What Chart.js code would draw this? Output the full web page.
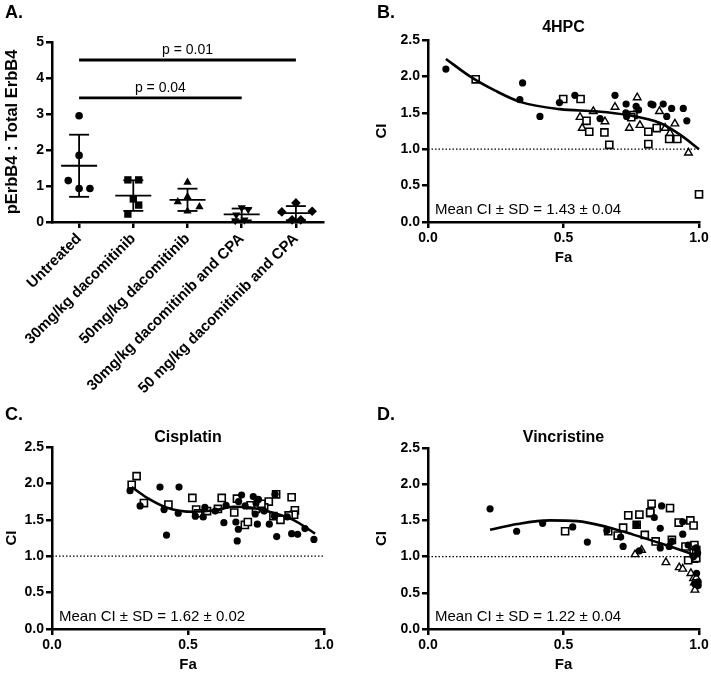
<!DOCTYPE html>
<html>
<head>
<meta charset="utf-8">
<title>pErbB4 and combination index</title>
<script src="https://cdn.jsdelivr.net/npm/chart.js@4.4.1/dist/chart.umd.min.js"></script>
<style>
  body { margin: 0; background: #fff; }
  .wrap { position: relative; width: 711px; height: 675px; overflow: hidden; }
  canvas { position: absolute; }
</style>
</head>
<body>
<div class="wrap">
  <canvas id="chartA" width="355" height="395" style="left:0;top:0"></canvas>
  <canvas id="chartB" width="356" height="300" style="left:355px;top:0"></canvas>
  <canvas id="chartC" width="355" height="280" style="left:0;top:395px"></canvas>
  <canvas id="chartD" width="356" height="280" style="left:355px;top:395px"></canvas>
</div>
<script>
Chart.defaults.font.family = "'Liberation Sans', Arial, Helvetica, sans-serif";
Chart.defaults.color = '#000';
Chart.defaults.animation = false;

// ---- panel A data ----
const groupLabels = ['Untreated', '30mg/kg dacomitinib', '50mg/kg dacomitinib',
                     '30mg/kg dacomitinib and CPA', '50 mg/kg dacomitinib and CPA'];
const untreatedVals = [2.95, 1.85, 1.15, 0.93, 0.93];
const untreatedPos  = [0, 0, -0.2, 0, 0.2];
const daco30Vals = [1.17, 1.17, 0.64, 0.47, 0.22];
const daco30Pos  = [0.9, 1.1, 1.0, 1.1, 0.9];
const daco50Vals = [1.1, 0.56, 0.7, 0.3, 0.42];
const daco50Pos  = [2.0, 1.82, 2.0, 2.0, 2.22];
const daco30CpaVals = [0.4, 0.35, 0.2, 0.04, 0.06];
const daco30CpaPos  = [3.0, 3.12, 2.9, 2.88, 3.05];
const daco50CpaVals = [0.53, 0.28, 0.3, 0.06, 0.06];
const daco50CpaPos  = [4.0, 3.74, 4.3, 3.93, 4.09];
const sigFrom = [0, 0];
const sigTo = [3, 4];
const sigHeight = [3.45, 4.5];
const sigText = ['p = 0.04', 'p = 0.01'];

// ---- panels B-D data: [Fa, CI] ----
const hpcCircles = [[0.066,2.10],[0.349,1.91],[0.339,1.68],[0.413,1.45],[0.485,1.64],[0.542,1.74],[0.635,1.42],
  [0.690,1.74],[0.731,1.62],[0.733,1.45],[0.768,1.59],[0.777,1.54],[0.823,1.62],[0.868,1.62],[0.899,1.56],
  [0.881,1.45],[0.942,1.56],[0.955,1.39],[0.73,1.50],[0.83,1.61]];
const hpcSquares = [[0.176,1.96],[0.499,1.69],[0.563,1.69],[0.585,1.39],[0.595,1.24],[0.651,1.23],[0.669,1.06],
  [0.758,1.47],[0.813,1.24],[0.813,1.07],[0.844,1.29],[0.890,1.14],[0.920,1.14],[1.0,0.38],[0.75,1.44]];
const hpcTriangles = [[0.561,1.44],[0.569,1.29],[0.610,1.52],[0.653,1.38],[0.690,1.58],[0.743,1.29],[0.772,1.71],
  [0.782,1.33],[0.854,1.52],[0.848,1.29],[0.875,1.29],[0.911,1.35],[0.893,1.22],[0.961,0.95],[0.76,1.47]];
const hpcFit = [[0.066,2.24],[0.155,2.0],[0.25,1.8],[0.34,1.65],[0.487,1.55],[0.62,1.52],[0.734,1.47],
  [0.856,1.36],[0.93,1.2],[1.0,1.0]];

const cisCircles = [[0.287,1.90],[0.324,1.69],[0.397,1.95],[0.467,1.95],[0.412,1.64],[0.464,1.59],[0.527,1.55],
  [0.562,1.67],[0.556,1.54],[0.421,1.29],[0.632,1.46],[0.676,1.47],[0.681,1.21],[0.685,1.37],[0.697,1.84],
  [0.740,1.82],[0.759,1.78],[0.820,1.85],[0.75,1.73],[0.686,1.75],[0.71,1.69],[0.747,1.58],[0.755,1.44],
  [0.799,1.44],[0.818,1.55],[0.826,1.27],[0.865,1.54],[0.881,1.31],[0.903,1.30],[0.930,1.38],[0.963,1.23],
  [0.60,1.62],[0.64,1.70],[0.78,1.62]];
const cisSquares = [[0.311,2.10],[0.293,1.98],[0.338,1.73],[0.428,1.71],[0.516,1.80],[0.53,1.64],[0.624,1.80],
  [0.61,1.65],[0.68,1.79],[0.797,1.75],[0.824,1.85],[0.881,1.81],[0.893,1.63],[0.89,1.57],[0.538,1.59],
  [0.57,1.62],[0.67,1.60],[0.75,1.65],[0.709,1.43],[0.72,1.47],[0.78,1.67],[0.814,1.55],[0.84,1.50],
  [0.87,1.56],[0.73,1.70],[0.77,1.72]];
const cisTriangles = [];
const cisFit = [[0.293,1.95],[0.35,1.80],[0.42,1.67],[0.52,1.61],[0.60,1.63],[0.667,1.68],[0.73,1.67],
  [0.789,1.62],[0.887,1.50],[0.967,1.31]];

const vinCircles = [[0.229,1.66],[0.327,1.35],[0.423,1.46],[0.534,1.41],[0.588,1.20],[0.66,1.36],[0.711,1.27],
  [0.72,1.14],[0.77,1.44],[0.78,1.08],[0.835,1.54],[0.857,1.39],[0.862,1.70],[0.857,1.12],[0.89,1.14],
  [0.90,1.21],[0.94,1.31],[0.94,1.48],[0.96,1.16],[0.99,1.12],[0.991,0.77],[0.997,0.65],[0.997,0.60],
  [0.985,0.62],[0.98,1.0],[0.995,1.05]];
const vinSquares = [[0.506,1.35],[0.665,1.35],[0.70,1.29],[0.72,1.40],[0.739,1.57],[0.77,1.44],[0.80,1.30],
  [0.82,1.60],[0.825,1.73],[0.893,1.67],[0.84,1.21],[0.90,1.23],[0.925,1.47],[0.968,1.50],[0.98,1.43],
  [0.95,1.14],[0.96,0.95],[0.98,1.05],[0.983,1.16],[0.99,0.98],[0.99,1.09],[0.78,1.58],[0.82,1.61]];
const vinTriangles = [[0.764,1.03],[0.788,1.09],[0.878,0.92],[0.927,0.85],[0.94,0.83],[0.97,0.77],[0.98,0.70],
  [0.983,0.64],[0.985,0.54],[0.98,0.95],[0.99,0.71]];
const vinFit = [[0.229,1.37],[0.33,1.45],[0.45,1.50],[0.55,1.49],[0.66,1.41],[0.76,1.30],[0.86,1.18],
  [0.94,1.08],[1.0,1.0]];

const additiveLine = [[0, 1], [1, 1]];
const faTicks = [0, 0.5, 1];
const ciTicks = [0, 0.5, 1, 1.5, 2, 2.5];

// ---- helpers ----
const mean = a => a.reduce((s, v) => s + v, 0) / a.length;
const sd = a => { const m = mean(a); return Math.sqrt(a.reduce((s, v) => s + (v - m) ** 2, 0) / (a.length - 1)); };
const toXY = pairs => pairs.map(p => ({ x: p[0], y: p[1] }));

function axis(opts) {
  const base = {
    grid: { display: true, drawOnChartArea: false, drawTicks: true, tickLength: 6, lineWidth: 2.5, color: '#000' },
    border: { display: true, width: 2.5, color: '#000' },
    ticks: { font: { size: 14, weight: 'bold' }, color: '#000', padding: 2 }
  };
  return Object.assign(base, opts);
}

// text drawn on top of the charts: panel letter, title, note
const panelText = {
  id: 'panelText',
  afterDraw(chart, args, o) {
    const ctx = chart.ctx, area = chart.chartArea;
    ctx.save();
    ctx.fillStyle = '#000';
    if (o.letter) {
      ctx.font = "bold 18px 'Liberation Sans', Arial";
      ctx.textAlign = 'left'; ctx.textBaseline = 'alphabetic';
      ctx.fillText(o.letter, o.letterX, o.letterY);
    }
    if (o.title) {
      ctx.font = "bold 16px 'Liberation Sans', Arial";
      ctx.textAlign = 'center'; ctx.textBaseline = 'middle';
      ctx.fillText(o.title, (area.left + area.right) / 2, o.titleY);
    }
    if (o.note) {
      ctx.font = "15px 'Liberation Sans', Arial";
      ctx.textAlign = 'left'; ctx.textBaseline = 'alphabetic';
      ctx.fillText(o.note, area.left + 7, area.bottom - 8);
    }
    ctx.restore();
  }
};
Chart.register(panelText);

// ---- panel A ----
const groupVals = [untreatedVals, daco30Vals, daco50Vals, daco30CpaVals, daco50CpaVals];
const groupPos = [untreatedPos, daco30Pos, daco50Pos, daco30CpaPos, daco50CpaPos];
const groupStyle = [
  { pointStyle: 'circle', radius: 3.8, rotation: 0 },
  { pointStyle: 'rect', radius: 5.2, rotation: 0 },
  { pointStyle: 'triangle', radius: 4.8, rotation: 0 },
  { pointStyle: 'triangle', radius: 4.8, rotation: 180 },
  { pointStyle: 'rectRot', radius: 4.8, rotation: 0 }
];

const meanSdPlugin = {
  id: 'meanSd',
  afterDatasetsDraw(chart) {
    const { ctx, scales: { x, y } } = chart;
    ctx.save();
    ctx.strokeStyle = '#000';
    ctx.lineCap = 'butt';
    const hline = (x0, x1, py, w) => { ctx.lineWidth = w; ctx.beginPath(); ctx.moveTo(x0, py); ctx.lineTo(x1, py); ctx.stroke(); };
    groupVals.forEach((vals, i) => {
      const m = mean(vals), s = sd(vals);
      const cx = x.getPixelForValue(i);
      const top = y.getPixelForValue(m + s), bot = y.getPixelForValue(Math.max(m - s, 0));
      ctx.lineWidth = 1.8;
      ctx.beginPath(); ctx.moveTo(cx, top); ctx.lineTo(cx, bot); ctx.stroke();
      hline(cx - 18, cx + 18, y.getPixelForValue(m), 1.8);
      hline(cx - 10, cx + 10, top, 1.8);
      hline(cx - 10, cx + 10, bot, 1.8);
    });
    ctx.fillStyle = '#000';
    ctx.font = "14px 'Liberation Sans', Arial";
    ctx.textAlign = 'center'; ctx.textBaseline = 'alphabetic';
    sigHeight.forEach((h, i) => {
      const x0 = x.getPixelForValue(sigFrom[i]), x1 = x.getPixelForValue(sigTo[i]);
      const py = y.getPixelForValue(h);
      hline(x0, x1, py, 2.8);
      ctx.fillText(sigText[i], (x0 + x1) / 2, py - 6);
    });
    ctx.restore();
  }
};

new Chart(document.getElementById('chartA'), {
  type: 'scatter',
  data: {
    datasets: groupVals.map((vals, i) => ({
      data: vals.map((v, j) => ({ x: groupPos[i][j], y: v })),
      pointStyle: groupStyle[i].pointStyle,
      pointRadius: groupStyle[i].radius,
      pointRotation: groupStyle[i].rotation,
      backgroundColor: '#000',
      borderColor: '#000',
      borderWidth: 0,
      clip: false
    }))
  },
  options: {
    responsive: false,
    layout: { padding: { left: 3, top: 42, right: 32, bottom: 0 } },
    plugins: {
      legend: { display: false }, tooltip: { enabled: false },
      panelText: { letter: 'A.', letterX: 5, letterY: 18 }
    },
    scales: {
      x: axis({
        type: 'linear', min: -0.5, max: 4.5,
        afterBuildTicks: s => { s.ticks = groupLabels.map((_, i) => ({ value: i })); },
        ticks: { font: { size: 15, weight: 'bold' }, color: '#000', padding: 2, minRotation: 45, maxRotation: 45,
                 callback: v => groupLabels[v] },
        afterFit: s => { s.height = 173; s.paddingLeft = 0; s.paddingRight = 0; }
      }),
      y: axis({
        type: 'linear', min: 0, max: 5,
        ticks: { font: { size: 14, weight: 'bold' }, color: '#000', padding: 2, stepSize: 1 },
        title: { display: true, text: 'pErbB4 : Total ErbB4', font: { size: 16.5, weight: 'bold' }, padding: 0 },
        afterFit: s => { s.width = 49; s.paddingTop = 0; s.paddingBottom = 0; }
      })
    }
  },
  plugins: [meanSdPlugin]
});

// ---- panels B-D ----
function ciChart(id, p) {
  const datasets = [
    { data: toXY(p.fit), showLine: true, pointRadius: 0, borderColor: '#000', borderWidth: 2.6,
      cubicInterpolationMode: 'monotone', clip: false },
    { data: toXY(p.circles), pointStyle: 'circle', pointRadius: 3.6, backgroundColor: '#000', borderWidth: 0, clip: false },
    { data: toXY(p.squares), pointStyle: 'rect', pointRadius: 5, backgroundColor: '#fff', borderColor: '#000', borderWidth: 1.6, clip: false },
    { data: toXY(p.triangles), pointStyle: 'triangle', pointRadius: 4.4, backgroundColor: '#fff', borderColor: '#000', borderWidth: 1.4, clip: false },
    { data: toXY(additiveLine), showLine: true, pointRadius: 0, borderColor: '#000', borderWidth: 1.2, borderDash: [1.5, 2] }
  ];
  new Chart(document.getElementById(id), {
    type: 'scatter',
    data: { datasets },
    options: {
      responsive: false,
      layout: { padding: p.pad },
      plugins: {
        legend: { display: false }, tooltip: { enabled: false },
        panelText: { letter: p.letter, letterX: p.letterX, letterY: p.letterY, title: p.title, titleY: p.titleY, note: p.note }
      },
      scales: {
        x: axis({
          type: 'linear', min: 0, max: 1,
          afterBuildTicks: s => { s.ticks = faTicks.map(v => ({ value: v })); },
          ticks: { font: { size: 14, weight: 'bold' }, color: '#000', padding: 2, callback: v => v.toFixed(1) },
          title: { display: true, text: 'Fa', font: { size: 15, weight: 'bold' }, padding: 0 },
          afterFit: s => { s.height = 44.4; s.paddingLeft = 0; s.paddingRight = 0; }
        }),
        y: axis({
          type: 'linear', min: 0, max: 2.5,
          afterBuildTicks: s => { s.ticks = ciTicks.map(v => ({ value: v })); },
          ticks: { font: { size: 14, weight: 'bold' }, color: '#000', padding: 2, callback: v => v.toFixed(1) },
          title: { display: true, text: 'CI', font: { size: 15, weight: 'bold' }, padding: 0 },
          afterFit: s => { s.width = p.yWidth; s.paddingTop = 0; s.paddingBottom = 0; }
        })
      }
    }
  });
}

ciChart('chartB', { fit: hpcFit, circles: hpcCircles, squares: hpcSquares, triangles: hpcTriangles,
  pad: { left: 18, top: 40, right: 12, bottom: 33.6 }, yWidth: 55,
  letter: 'B.', letterX: 22, letterY: 18, title: '4HPC', titleY: 28, note: 'Mean CI \u00b1 SD = 1.43 \u00b1 0.04' });
ciChart('chartC', { fit: cisFit, circles: cisCircles, squares: cisSquares, triangles: cisTriangles,
  pad: { left: 3, top: 52, right: 31, bottom: 1.6 }, yWidth: 49,
  letter: 'C.', letterX: 5, letterY: 25, title: 'Cisplatin', titleY: 43, note: 'Mean CI \u00b1 SD = 1.62 \u00b1 0.02' });
ciChart('chartD', { fit: vinFit, circles: vinCircles, squares: vinSquares, triangles: vinTriangles,
  pad: { left: 18, top: 53, right: 12, bottom: 1.6 }, yWidth: 55,
  letter: 'D.', letterX: 22, letterY: 25, title: 'Vincristine', titleY: 43, note: 'Mean CI \u00b1 SD = 1.22 \u00b1 0.04' });
</script>
</body>
</html>
